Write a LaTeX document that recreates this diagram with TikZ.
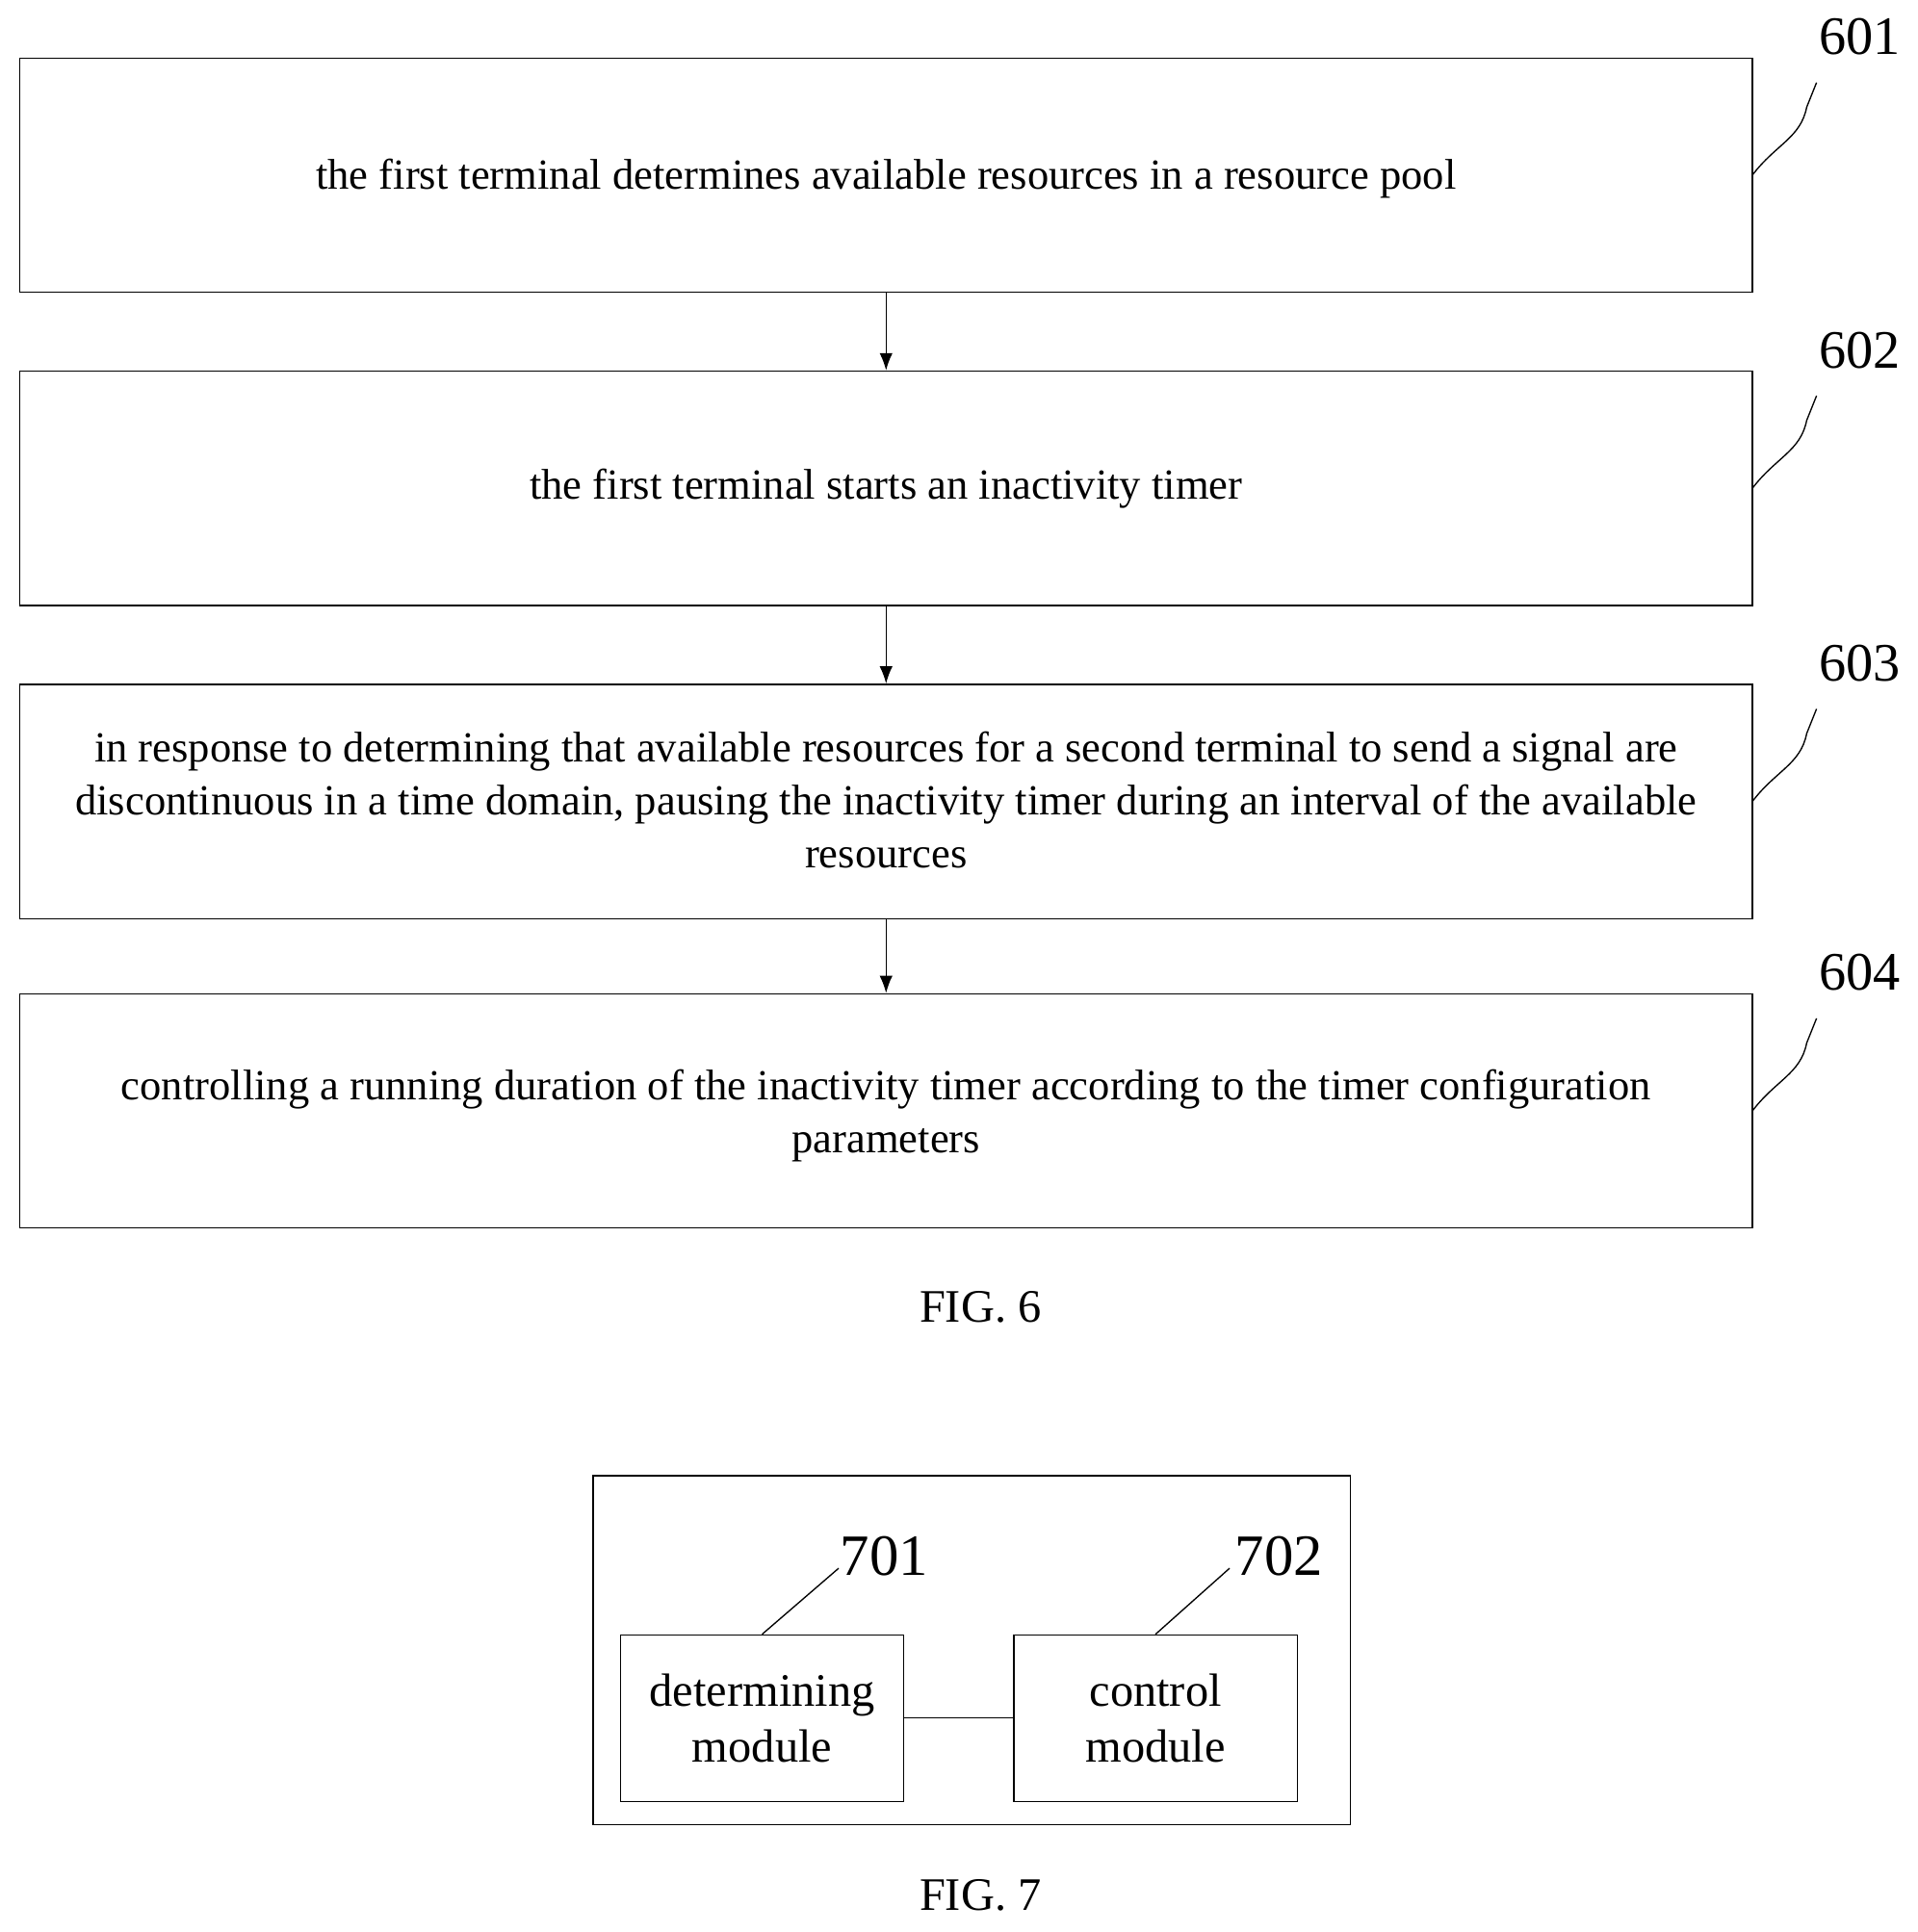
\documentclass[tikz,border=0pt]{standalone}
\usepackage{fontspec}
\setmainfont{Liberation Serif}
\usetikzlibrary{arrows.meta}
\begin{document}
\begin{tikzpicture}[x=0.02cm,y=-0.02cm,
 box/.style={draw,line width=0.6pt,inner sep=0pt},
 txt/.style={font=\fontsize{19.8}{24.5}\selectfont,align=center},
 num/.style={font=\fontsize{25}{28}\selectfont},
 mtxt/.style={font=\fontsize{21.5}{26}\selectfont,align=center},
 arr/.style={-{Latex[length=8pt,width=6pt]},line width=0.6pt},
 lead/.style={line width=0.6pt}]
\useasboundingbox (0,0) rectangle (1555,1567);
\foreach \n/\t/\b in {1/47/237,2/301/491,3/555/745,4/806/996}{
 \node[box,minimum width=28.1cm,minimum height={(\b-\t)*0.02cm}] (b\n) at (718.5,{(\t+\b)/2}) {};
 \coordinate (s\n) at (1421,{(\t+\b)/2});
 \coordinate (e\n) at (1473,{\t+20});
 \node[num] (n\n) at (1508,{\t-17}) {60\n};
 \draw[lead] (s\n) .. controls (1440,{(\t+\b)/2-25}) and (1460,{(\t+\b)/2-30}) .. (1465,{\t+40}) -- (e\n);
}
\node[txt,yshift=-0.06cm] (t1) at (b1) {the first terminal determines available resources in a resource pool};
\node[txt] (t2) at (b2) {the first terminal starts an inactivity timer};
\node[txt,yshift=0.02cm] (t3) at (b3) {in response to determining that available resources for a second terminal to send a signal are\\ discontinuous in a time domain, pausing the inactivity timer during an interval of the available\\ resources};
\node[txt,yshift=-0.08cm] (t4) at (b4) {controlling a running duration of the inactivity timer according to the timer configuration\\ parameters};
\draw[arr] (b1.south) -- (b2.north);
\draw[arr] (b2.south) -- (b3.north);
\draw[arr] (b3.south) -- (b4.north);
\node[mtxt] (f6) at (795,1060) {FIG. 6};
\node[box,minimum width=12.28cm,minimum height=5.66cm] (outer) at (788,1338.5) {};
\node[box,minimum width=4.6cm,minimum height=2.7cm,mtxt] (m1) at (618,1393.5) {determining\\module};
\node[box,minimum width=4.6cm,minimum height=2.7cm,mtxt] (m2) at (937,1393.5) {control\\module};
\draw[lead] (m1.east) -- (m2.east -| m2.west);
\node[num,font=\fontsize{27}{30}\selectfont] (n701) at (717,1262) {701};
\node[num,font=\fontsize{27}{30}\selectfont] (n702) at (1037,1262) {702};
\draw[lead] (m1.north) -- (680,1272);
\draw[lead] (m2.north) -- (997,1272);
\node[mtxt] (f7) at (795,1537) {FIG. 7};
\end{tikzpicture}
\end{document}
